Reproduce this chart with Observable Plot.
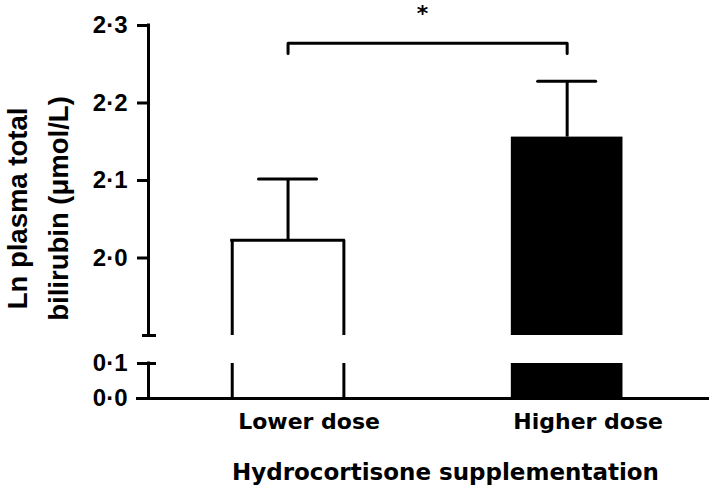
<!DOCTYPE html>
<html>
<head>
<meta charset="utf-8">
<script src="https://cdn.jsdelivr.net/npm/d3@7"></script>
<script src="https://cdn.jsdelivr.net/npm/@observablehq/plot@0.6"></script>
<style>
  body { margin: 0; background: #fff; }
  svg { display: block; }
</style>
</head>
<body>
<div id="chart"></div>
<script>
// ---- data ----
const categories = ["Lower dose", "Higher dose"];
const means = [2.023, 2.156];
const errUp = [0.079, 0.072];
const barFills = ["white", "black"];
const yTicks = [0, 0.1, 2.0, 2.1, 2.2, 2.3];
const breakLow = 0.1;     // top of lower axis segment
const breakHigh = 1.9;    // bottom of upper axis segment
const yMax = 2.3;
const bracketIdx = [0, 1];
const bracketY = 2.277;
const bracketLeg = 0.013;
const sigLabel = "*";
const xTitle = "Hydrocortisone supplementation";
const yTitle = "Ln plasma total\nbilirubin (μmol/L)";

// ---- derived tables ----
const xMin = -0.5, xMax = 1.51, halfW = 0.2, capW = 0.104;
const rows = categories.map((c, i) => ({i, c, mean: means[i], top: means[i] + errUp[i], fill: barFills[i]}));
const segs = [];
rows.forEach(r => {
  segs.push({...r, lo: 0, hi: breakLow});
  segs.push({...r, lo: breakHigh, hi: r.mean});
});
const axisSegs = [{lo: 0, hi: breakLow}, {lo: breakHigh, hi: yMax}];
const sides = [];
segs.filter(s => s.fill === "white").forEach(s => {
  sides.push({...s, xs: s.i - halfW});
  sides.push({...s, xs: s.i + halfW});
});
const bracket = [
  {x: bracketIdx[0], y: bracketY - bracketLeg},
  {x: bracketIdx[0], y: bracketY},
  {x: bracketIdx[1], y: bracketY},
  {x: bracketIdx[1], y: bracketY - bracketLeg}
];
const fmt = d => d.toFixed(1).replace(".", "·");
const SW = 3;
const ARIAL = "Liberation Sans, Arial, sans-serif";

const chart = Plot.plot({
  width: 709,
  height: 486,
  marginLeft: 148,
  marginRight: 0,
  marginTop: 25,
  marginBottom: 88,
  style: {fontFamily: "DejaVu Sans", fontWeight: "bold", color: "black", background: "white", overflow: "visible"},
  x: {type: "linear", domain: [xMin, xMax]},
  y: {type: "linear", domain: [0, breakLow, breakHigh, yMax], range: [398, 363, 335, 25]},
  marks: [
    // bars (two segments because of the broken axis)
    Plot.rectY(segs, {x1: d => d.i - halfW, x2: d => d.i + halfW, y1: "lo", y2: "hi", fill: "fill"}),
    // outline of open bar
    Plot.ruleX(sides, {x: "xs", y1: "lo", y2: "hi", stroke: "black", strokeWidth: SW}),
    Plot.ruleY(rows.filter(r => r.fill === "white"), {y: "mean", x1: d => d.i - halfW, x2: d => d.i + halfW, stroke: "black", strokeWidth: SW, insetLeft: -1.5, insetRight: -1.5}),
    // error bars (upper only)
    Plot.ruleX(rows, {x: "i", y1: "mean", y2: "top", stroke: "black", strokeWidth: SW}),
    Plot.ruleY(rows, {y: "top", x1: d => d.i - capW, x2: d => d.i + capW, stroke: "black", strokeWidth: SW, strokeLinecap: "round"}),
    // axis lines
    Plot.ruleX(axisSegs, {x: () => xMin, y1: "lo", y2: "hi", stroke: "black", strokeWidth: SW, strokeLinecap: "square"}),
    Plot.ruleY([breakLow, breakHigh], {x1: () => xMin, x2: () => xMin, insetLeft: -6, insetRight: -8, stroke: "black", strokeWidth: SW}),
    Plot.ruleY([0], {insetLeft: -12, stroke: "black", strokeWidth: SW}),
    Plot.axisY({ticks: yTicks, tickSize: 11, tickPadding: 10, tickFormat: fmt, fontFamily: ARIAL, fontSize: 24, fontWeight: "bold", strokeWidth: SW, label: null}),
    Plot.axisX({ticks: [0, 1], tickSize: 0, tickPadding: 15, tickFormat: i => categories[i], fontSize: 22, fontWeight: "bold", dx: 21, label: null}),
    // significance bracket
    Plot.line(bracket, {x: "x", y: "y", stroke: "black", strokeWidth: SW, strokeLinejoin: "round", strokeLinecap: "round"}),
    Plot.text([sigLabel], {x: () => (bracketIdx[0] + bracketIdx[1]) / 2, y: () => yMax, text: d => d, fontSize: 22, fontWeight: "bold", lineAnchor: "middle", dx: -5, dy: -12}),
    // titles
    Plot.text([xTitle], {frameAnchor: "bottom", text: d => d, fontSize: 23, fontWeight: "bold", lineAnchor: "middle", textAnchor: "middle", dx: 16.5, dy: 74.6}),
    Plot.text([yTitle], {frameAnchor: "left", text: d => d, rotate: -90, fontFamily: ARIAL, fontSize: 27.5, fontWeight: "bold", lineHeight: 1.49, lineAnchor: "middle", textAnchor: "middle", dx: -114, dy: -3.5})
  ]
});
document.getElementById("chart").appendChild(chart);
</script>
</body>
</html>
